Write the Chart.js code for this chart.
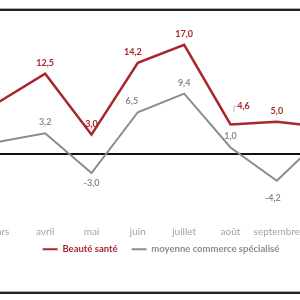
<!DOCTYPE html>
<html>
<head>
<meta charset="utf-8">
<script src="https://cdn.jsdelivr.net/npm/chart.js@4"></script>
<style>
  html, body { margin: 0; padding: 0; width: 300px; height: 300px; overflow: hidden; background: #fff; }
  body { position: relative; }
  #wrap { position: absolute; left: -55px; top: 0; width: 432px; height: 264px; }
  .rule { position: absolute; left: 0; width: 300px; height: 2px; background: #222; border-top: 1px solid #aaa; }
</style>
</head>
<body>
<div class="rule" style="top:8px"></div>
<div class="rule" style="top:291px"></div>
<div id="wrap"><canvas id="chart"></canvas></div>
<script>
const months = ['mars', 'avril', 'mai', 'juin', 'juillet', 'août', 'septembre', 'octobre'];
const beauteSante = [8.1, 12.5, 3.0, 14.2, 17.0, 4.6, 5.0, 4.2];
const moyenneCommerce = [1.9, 3.2, -3.0, 6.5, 9.4, 1.0, -4.2, 2.7];

const red = '#a8262d';
const grey = '#8c8c8c';

// one empty slot on each side so the first/last months run off the edges
const labels = [''].concat(months, ['']);
const pad = arr => [null].concat(arr, [null]);

// small shifts for a few value labels, like in the original
const nudge = {
  '0:juin': [-5, 0],
  '0:août': [13, -7],
  '1:juin': [-6, 0],
  '1:septembre': [-4, 7]
};

const valueLabels = {
  id: 'valueLabels',
  afterLayout(chart) {
    // x axis is squeezed so the legend sits close; don't clip its labels
    chart.scales.x.bottom = chart.height;
  },
  afterDatasetsDraw(chart) {
    const ctx = chart.ctx;
    ctx.save();
    ctx.font = 'bold 9px Lato';
    ctx.textAlign = 'center';
    ctx.textBaseline = 'middle';
    chart.data.datasets.forEach((ds, i) => {
      const meta = chart.getDatasetMeta(i);
      meta.data.forEach((pt, j) => {
        const v = ds.data[j];
        // first and last month are cropped off in the original, no labels there
        if (v === null || j === 1 || j === labels.length - 2) return;
        const [dx, dy] = nudge[i + ':' + labels[j]] || [0, 0];
        const x = pt.x + dx;
        const y = (v >= 0 ? pt.y - 11 : pt.y + 10) + dy;
        if (dx > 8) {
          // leader line to an offset label
          ctx.strokeStyle = '#bbb';
          ctx.lineWidth = 1;
          ctx.beginPath();
          ctx.moveTo(pt.x + 3.5, pt.y - 12);
          ctx.lineTo(pt.x + 3.5, y);
          ctx.lineTo(pt.x + 6, y);
          ctx.stroke();
        }
        ctx.fillStyle = ds.borderColor;
        ctx.fillText(v.toFixed(1).replace('.', ','), x, y);
      });
    });
    ctx.restore();
  }
};

new Chart(document.getElementById('chart'), {
  type: 'line',
  data: {
    labels: labels,
    datasets: [{
      label: 'Beauté santé',
      data: pad(beauteSante),
      borderColor: red,
      backgroundColor: red,
      borderWidth: 2.5,
      pointRadius: 0,
      tension: 0
    }, {
      label: 'moyenne commerce spécialisé',
      data: pad(moyenneCommerce),
      borderColor: grey,
      backgroundColor: grey,
      borderWidth: 2,
      pointRadius: 0,
      tension: 0
    }]
  },
  options: {
    responsive: true,
    maintainAspectRatio: false,
    animation: false,
    layout: { padding: 0, autoPadding: false },
    plugins: {
      tooltip: { enabled: false },
      legend: {
        position: 'bottom',
        labels: {
          boxWidth: 15,
          boxHeight: 2,
          padding: 14,
          font: { family: 'Lato', size: 9.5, weight: 'bold' },
          generateLabels: chart => chart.data.datasets.map((ds, i) => ({
            text: ds.label,
            fillStyle: ds.borderColor,
            strokeStyle: ds.borderColor,
            lineWidth: 0,
            fontColor: ds.borderColor,
            datasetIndex: i,
            hidden: false
          }))
        }
      }
    },
    scales: {
      x: {
        offset: false,
        grid: { display: false, drawTicks: false },
        border: { display: false },
        afterFit: s => { s.height = 12.5; },
        ticks: {
          color: '#a3a3a3',
          font: { family: 'Lato', size: 10 },
          padding: 7.5,
          autoSkip: false,
          maxRotation: 0
        }
      },
      y: {
        min: -10,
        max: 24,
        ticks: { display: false, stepSize: 2 },
        grid: {
          drawTicks: false,
          lineWidth: 2,
          color: c => c.tick.value === 0 ? '#111' : 'transparent'
        },
        border: { display: false }
      }
    }
  },
  plugins: [valueLabels]
});
</script>
</body>
</html>
